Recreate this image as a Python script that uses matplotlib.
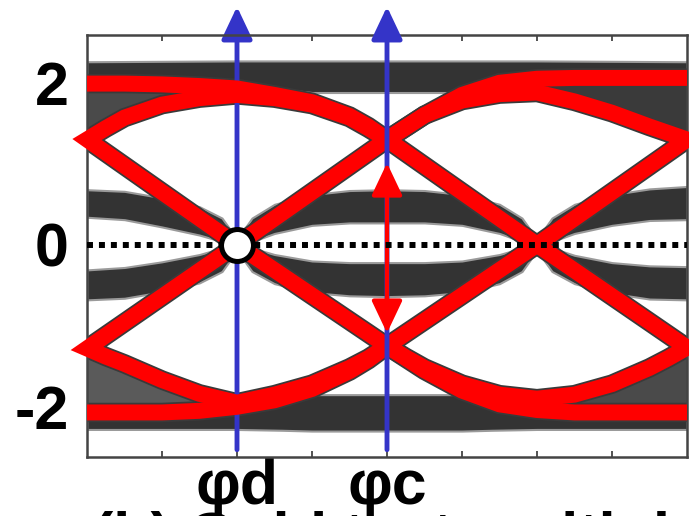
import matplotlib
matplotlib.use('Agg')
import matplotlib.pyplot as plt
from matplotlib.patches import FancyArrowPatch

plt.rcParams['font.family'] = ['Liberation Sans', 'DejaVu Sans']

# ---------------- data ----------------
x_left = [0.0, 0.25, 0.5, 1.0, 1.5, 2.0, 2.5, 3.0, 3.5, 3.75, 4.0]
x_right = [4.0, 4.25, 4.5, 5.0, 5.5, 6.0, 6.5, 7.0, 7.5, 7.75, 8.0]

# highlighted (red) traces
upper_arc_left = [1.30, 1.44, 1.57, 1.73, 1.81, 1.85, 1.81, 1.73, 1.57, 1.44, 1.30]
upper_arc_right = [1.30, 1.45, 1.60, 1.78, 1.86, 1.88, 1.77, 1.63, 1.46, 1.38, 1.30]
lower_arc_left = [-1.28, -1.38, -1.47, -1.67, -1.84, -1.95, -1.85, -1.72, -1.52, -1.40, -1.25]
lower_arc_right = [-1.25, -1.39, -1.52, -1.72, -1.85, -1.90, -1.85, -1.72, -1.52, -1.40, -1.27]
top_left = [1.99, 1.99, 1.99, 1.98, 1.96, 1.93, 1.85, 1.76, 1.59, 1.46, 1.30]
top_right = [1.30, 1.45, 1.60, 1.85, 2.00, 2.05, 2.06, 2.06, 2.06, 2.06, 2.06]
bottom_left = [-2.07, -2.07, -2.07, -2.07, -2.05, -2.00, -1.92, -1.78, -1.56, -1.42, -1.25]
bottom_right = [-1.25, -1.40, -1.55, -1.80, -1.97, -2.04, -2.07, -2.07, -2.07, -2.07, -2.07]

x_cross_left = [0.0, 2.0, 4.0]
x_cross_right = [4.0, 6.0, 8.0]
fall_left = [1.30, 0.0, -1.25]
rise_left = [-1.28, 0.0, 1.30]
fall_right = [1.30, 0.0, -1.27]
rise_right = [-1.25, 0.0, 1.30]

# grey eye-diagram bands (outer levels)
x_band = [0.0, 2.0, 2.6, 3.0, 4.0, 5.0, 5.4, 6.0, 8.0]
top_band_hi = [2.26, 2.27, 2.27, 2.27, 2.27, 2.27, 2.27, 2.27, 2.26]
top_band_lo = [2.02, 2.00, 1.92, 1.88, 1.88, 1.88, 1.92, 2.00, 2.02]
bot_band_hi = [-1.97, -1.97, -1.90, -1.85, -1.85, -1.85, -1.90, -1.97, -1.97]
bot_band_lo = [-2.28, -2.28, -2.29, -2.30, -2.30, -2.30, -2.29, -2.28, -2.28]

# grey eye-diagram bands (inner levels)
x_inner = [0.0, 0.5, 1.0, 1.5, 1.8, 2.0, 2.2, 2.5, 3.0, 3.5, 4.0,
           4.5, 5.0, 5.5, 5.8, 6.0, 6.2, 6.5, 7.0, 7.5, 8.0]
up_in_hi = [0.68, 0.66, 0.58, 0.47, 0.33, 0.07, 0.33, 0.50, 0.62, 0.67, 0.68,
            0.67, 0.62, 0.50, 0.33, 0.07, 0.33, 0.50, 0.62, 0.69, 0.72]
up_in_lo = [0.34, 0.31, 0.22, 0.12, 0.04, -0.04, 0.04, 0.14, 0.24, 0.27, 0.27,
            0.27, 0.24, 0.14, 0.04, -0.04, 0.04, 0.14, 0.24, 0.30, 0.31]
lo_in_hi = [-0.31, -0.28, -0.21, -0.12, -0.04, 0.04, -0.04, -0.12, -0.20, -0.22, -0.22,
            -0.22, -0.20, -0.12, -0.04, 0.04, -0.04, -0.13, -0.22, -0.26, -0.27]
lo_in_lo = [-0.68, -0.66, -0.58, -0.47, -0.33, -0.07, -0.33, -0.48, -0.59, -0.63, -0.64,
            -0.63, -0.59, -0.48, -0.33, -0.07, -0.33, -0.48, -0.60, -0.67, -0.68]

y_ticks = [2, 0, -2]
y_tick_labels = ['2', '0', '-2']
x_ticks = [1, 2, 3, 4, 5, 6, 7]
x_tick_labels = ['', '\u03c6d', '', '\u03c6c', '', '', '']
phi_d = 2.0
phi_c = 4.0
blue_span = [-2.53, 2.94]
red_arrow_span = [1.01, -1.09]
caption = '(b) Gold test multiple'

# ---------------- figure ----------------
fig = plt.figure(figsize=(6.89, 5.16), dpi=100)
ax = fig.add_axes([87 / 689, 59 / 516, 600 / 689, 422 / 516])
ax.set_xlim(0, 8)
ax.set_ylim(-2.62, 2.59)

RED = '#ff0000'
BLUE = '#3434c8'
DARK = '#333333'

# grey bands
for xs, hi, lo in [(x_band, top_band_hi, top_band_lo), (x_band, bot_band_hi, bot_band_lo),
                   (x_inner, up_in_hi, up_in_lo), (x_inner, lo_in_hi, lo_in_lo)]:
    ax.fill_between(xs, lo, hi, facecolor=DARK, edgecolor='#9a9a9a', linewidth=1.5, zorder=1)

# grey fans between red traces near the edges
ax.fill_between(x_left[:6], upper_arc_left[:6], top_left[:6], color='#4a4a4a', lw=0, zorder=1)
ax.fill_between(x_left[:6], bottom_left[:6], lower_arc_left[:6], color='#5a5a5a', lw=0, zorder=1)
ax.fill_between(x_right[5:], upper_arc_right[5:], top_right[5:], color='#3a3a3a', lw=0, zorder=1)
ax.fill_between(x_right[5:], bottom_right[5:], lower_arc_right[5:], color='#4a4a4a', lw=0, zorder=1)

paths = [
    (x_cross_left[::-1][:-1] + x_left, fall_left[::-1][:-1] + upper_arc_left),
    (x_cross_left[::-1][:-1] + x_left, rise_left[::-1][:-1] + lower_arc_left),
    (x_right + x_cross_right[::-1][1:], upper_arc_right + rise_right[::-1][1:]),
    (x_right + x_cross_right[::-1][1:], lower_arc_right + fall_right[::-1][1:]),
    (x_left, top_left), (x_left, bottom_left),
    (x_right, top_right), (x_right, bottom_right),
]
for xs, ys in paths:
    ax.plot(xs, ys, color='#3a3a3a', lw=14.0, solid_joinstyle='miter',
            solid_capstyle='butt', zorder=2, clip_on=True)

# blue phase marker at phi_d (beneath the red traces)
arr_d = FancyArrowPatch((phi_d, blue_span[0]), (phi_d, blue_span[1]),
                        arrowstyle='-|>,head_length=0.95,head_width=0.45',
                        mutation_scale=21, lw=3.5, color=BLUE, shrinkA=0, shrinkB=0,
                        zorder=2.5, clip_on=False)
ax.add_patch(arr_d)

for xs, ys in paths:
    ax.plot(xs, ys, color=RED, lw=11.5, solid_joinstyle='miter',
            solid_capstyle='butt', zorder=3, clip_on=False)

# blue phase marker at phi_c (above the red traces)
arr_c = FancyArrowPatch((phi_c, blue_span[0]), (phi_c, blue_span[1]),
                        arrowstyle='-|>,head_length=0.95,head_width=0.45',
                        mutation_scale=21, lw=3.5, color=BLUE, shrinkA=0, shrinkB=0,
                        zorder=4, clip_on=False)
ax.add_patch(arr_c)

# red double arrow (eye opening)
arr_r = FancyArrowPatch((phi_c, red_arrow_span[1]), (phi_c, red_arrow_span[0]),
                        arrowstyle='<|-|>,head_length=0.95,head_width=0.45',
                        mutation_scale=21, lw=3.0, color=RED, shrinkA=0, shrinkB=0,
                        zorder=5)
ax.add_patch(arr_r)

# zero reference (dotted) and crossing marker
ax.axhline(0, color='black', lw=4.3, linestyle=(0, (1, 1)), dash_capstyle='butt', zorder=6)
ax.plot([phi_d], [0], 'o', ms=23, mfc='white', mec='black', mew=3.6, zorder=7)

# axes styling
for s in ax.spines.values():
    s.set_color('#444444')
    s.set_linewidth(1.8)
ax.set_yticks(y_ticks)
ax.set_yticklabels(y_tick_labels, fontsize=44, fontweight='bold')
ax.tick_params(axis='y', length=0, pad=13)
ax.set_xticks(x_ticks)
ax.set_xticklabels(x_tick_labels, fontsize=45, fontweight='bold')
ax.tick_params(axis='x', direction='in', top=True, bottom=True, length=4,
               width=1.3, color='#444444', pad=1)

fig.text(0.135, -0.075, caption, fontsize=44, fontweight='bold', ha='left', va='baseline')

fig.savefig('out.png', dpi=100)
